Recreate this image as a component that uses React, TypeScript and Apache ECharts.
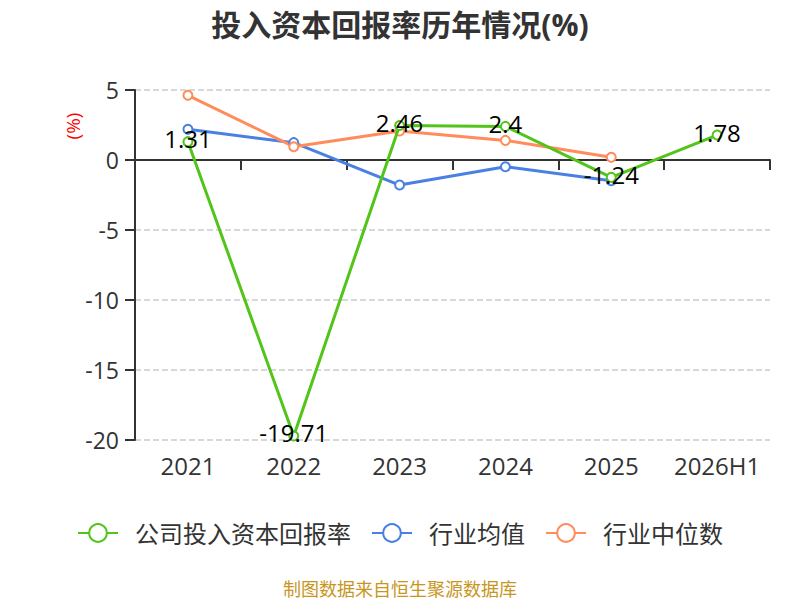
import React, { useEffect, useRef } from "react";
import * as echarts from "echarts";

const categories = ["2021", "2022", "2023", "2024", "2025", "2026H1"];
const companyRoic = [1.31, -19.71, 2.46, 2.4, -1.24, 1.78];
const industryAvg = [2.19, 1.24, -1.79, -0.48, -1.48, null];
const industryMedian = [4.62, 0.95, 2.07, 1.4, 0.19, null];
const yTicks = { min: -20, max: 5, interval: 5 };

const FONT = "'Open Sans', 'Noto Sans CJK SC', sans-serif";

export default function App() {
  const ref = useRef<HTMLDivElement>(null);
  useEffect(() => {
    if (!ref.current) return;
    const chart = echarts.init(ref.current, undefined, { renderer: "svg" });
    const mkSeries = (name: string, data: any[], color: string, label: boolean) => ({
      name,
      type: "line",
      data,
      xAxisIndex: 0,
      symbol: "emptyCircle",
      symbolSize: 9,
      lineStyle: { width: 3, color },
      itemStyle: { color, borderWidth: 2 },
      label: label
        ? {
            show: true,
            position: "inside",
            offset: [0, -3],
            fontSize: 24,
            color: "#000",
            fontFamily: FONT,
          }
        : { show: false },
      z: label ? 3 : 2,
    });
    chart.setOption({
      animation: false,
      textStyle: { fontFamily: FONT },
      title: {
        text: "投入资本回报率历年情况(%)",
        left: "center",
        top: 4,
        textStyle: { fontSize: 30, fontWeight: "bold", color: "#333", fontFamily: FONT },
      },
      grid: { left: 135, right: 30, top: 90, bottom: 160 },
      legend: {
        bottom: 50,
        left: "center",
        itemWidth: 40,
        itemHeight: 22,
        itemGap: 20,
        textStyle: { fontSize: 24, color: "#333", fontFamily: FONT, padding: [0, 0, 0, 12] },
        data: ["公司投入资本回报率", "行业均值", "行业中位数"],
      },
      xAxis: [
        {
          type: "category",
          data: categories,
          boundaryGap: true,
          axisLine: { show: true, onZero: true, lineStyle: { color: "#333", width: 2 } },
          axisTick: { show: true, length: 10, lineStyle: { color: "#333", width: 2 } },
          axisLabel: { show: false },
        },
        {
          type: "category",
          data: categories,
          position: "bottom",
          boundaryGap: true,
          axisLine: { show: false, onZero: false },
          axisTick: { show: false },
          axisLabel: {
            show: true,
            interval: 0,
            fontSize: 24,
            color: "#333",
            margin: 13,
            fontFamily: FONT,
          },
        },
      ],
      yAxis: {
        type: "value",
        min: yTicks.min,
        max: yTicks.max,
        interval: yTicks.interval,
        axisLine: { show: true, lineStyle: { color: "#333", width: 2 } },
        axisTick: { show: true, length: 10, lineStyle: { color: "#333", width: 2 } },
        axisLabel: { fontSize: 23, color: "#333", margin: 16, fontFamily: FONT },
        splitLine: { show: true, lineStyle: { type: "dashed", color: "#ccc", width: 1.5 } },
      },
      graphic: [
        {
          type: "text",
          x: 73,
          y: 126,
          rotation: Math.PI / 2,
          style: {
            text: "(%)",
            fill: "#ff0000",
            fontSize: 19,
            fontFamily: FONT,
            align: "center",
            verticalAlign: "middle",
          },
        },
        {
          type: "text",
          x: 400,
          y: 589,
          style: {
            text: "制图数据来自恒生聚源数据库",
            fill: "#c8961e",
            fontSize: 18,
            fontFamily: FONT,
            align: "center",
            verticalAlign: "middle",
          },
        },
      ],
      series: [
        mkSeries("公司投入资本回报率", companyRoic, "#52c41a", true),
        mkSeries("行业均值", industryAvg, "#4a7fe3", false),
        mkSeries("行业中位数", industryMedian, "#ff8c5a", false),
      ],
    });
    return () => chart.dispose();
  }, []);
  return (
    <div
      ref={ref}
      style={{ position: "absolute", left: 0, top: 0, width: 800, height: 600 }}
    />
  );
}
